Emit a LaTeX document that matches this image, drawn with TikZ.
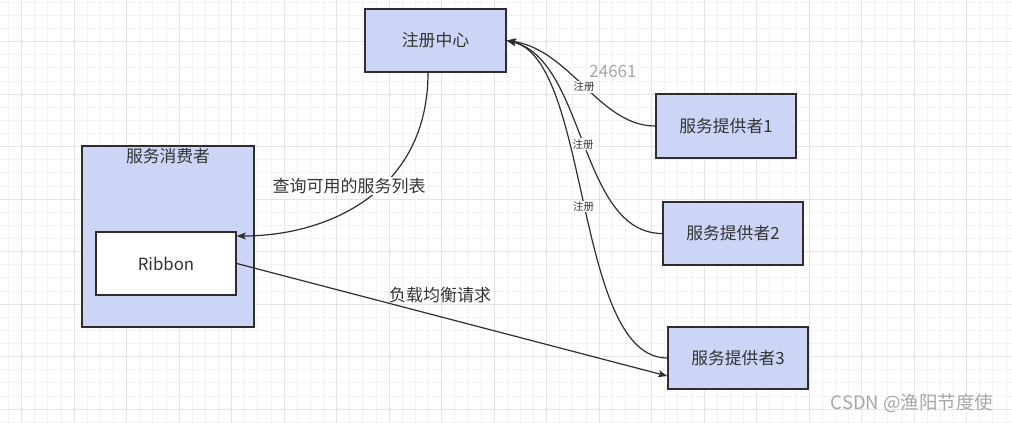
\documentclass[tikz,border=0pt]{standalone}
\usepackage{fontspec}
\setmainfont{Noto Sans CJK SC}
\usetikzlibrary{arrows.meta}
\definecolor{boxblue}{HTML}{CCD5F6}
\definecolor{linedark}{HTML}{2E2E2E}
\definecolor{textdark}{HTML}{333333}
\definecolor{gridminor}{HTML}{F2F2F2}
\definecolor{gridmajor}{HTML}{E4E4E4}
\definecolor{markgray}{HTML}{A6A6A6}
\tikzset{
	box/.style={draw=linedark, line width=1.5pt, fill=boxblue, text=textdark, inner sep=0pt,
		font=\fontsize{16.8}{19}\selectfont},
	link/.style={draw=linedark, line width=1.2pt, -{Stealth[length=9pt,width=7pt,inset=2pt]}},
	reglabel/.style={fill=white, inner sep=1pt, text=textdark, font=\fontsize{10.5}{12}\selectfont},
	textlabel/.style={text=textdark, inner sep=1pt, font=\fontsize{17}{19}\selectfont}
}

\begin{document}
\begin{tikzpicture}[x=1pt, y=-1pt]
	%%%%% START %%%%%
	
	\useasboundingbox (0, 0) rectangle (1012, 423);
	
	% grid
	\foreach \i in {0,...,76} \draw[gridminor, line width=1pt] (8.575+\i*13.125, 0) -- (8.575+\i*13.125, 423);
	\foreach \i in {0,...,32} \draw[gridminor, line width=1pt] (0, 2.325+\i*13.125) -- (1012, 2.325+\i*13.125);
	\foreach \i in {0,...,18} \draw[gridmajor, line width=1pt] (21.7+\i*52.5, 0) -- (21.7+\i*52.5, 423);
	\foreach \i in {0,...,7} \draw[gridmajor, line width=1pt] (0, 41.7+\i*52.5) -- (1012, 41.7+\i*52.5);
	
	\node[box, minimum width=141pt, minimum height=63pt] (reg) at (435.5, 40.5) {注册中心};
	
	\node[box, minimum width=172pt, minimum height=181pt,
		label={[anchor=north, text=textdark, inner sep=0pt, yshift=-3pt, font=\fontsize{16.8}{19}\selectfont]north:服务消费者}]
		(consumer) at (168, 236.5) {};
	\node[box, fill=white, minimum width=140pt, minimum height=63pt] (ribbon) at (166, 263.5) {Ribbon};
	
	\node[box, minimum width=140pt, minimum height=64pt] (p1) at (726, 126) {服务提供者1};
	\node[box, minimum width=140pt, minimum height=63pt] (p2) at (733, 233.5) {服务提供者2};
	\node[box, minimum width=140pt, minimum height=62pt] (p3) at (738, 358) {服务提供者3};
	
	% register
	\draw[link] (p1.west) .. controls +(-56, 0) and +(64, 9.5) .. node[reglabel, pos=0.5] (r1) {注册} (reg.east);
	\draw[link] (p2.west) .. controls +(-83, 0) and +(79, 19.5) .. node[reglabel, pos=0.5] (r2) {注册} (reg.east);
	\draw[link] (p3.west) .. controls +(-93, 0) and +(84, 19.5) .. node[reglabel, pos=0.5] (r3) {注册} (reg.east);
	
	% query
	\draw[link] ([xshift=-7.5pt]reg.south) .. controls +(0, 118) and +(92, 0) .. ([yshift=27.5pt]ribbon.east);
	\node[textlabel, fill=white] (query) at (349, 186) {查询可用的服务列表};
	
	% load balance
	\draw[link] (ribbon.east) -- ([yshift=-18pt]p3.west);
	\node[textlabel] (balance) at (440, 295) {负载均衡请求};
	
	\node[text=markgray, font=\fontsize{17}{19}\selectfont] (num) at (613, 71) {24661};
	\node[text=markgray, font=\fontsize{18.5}{20}\selectfont] (mark) at (912, 403) {CSDN @渔阳节度使};
	
	%%%%% END %%%%%
\end{tikzpicture}
\end{document}
